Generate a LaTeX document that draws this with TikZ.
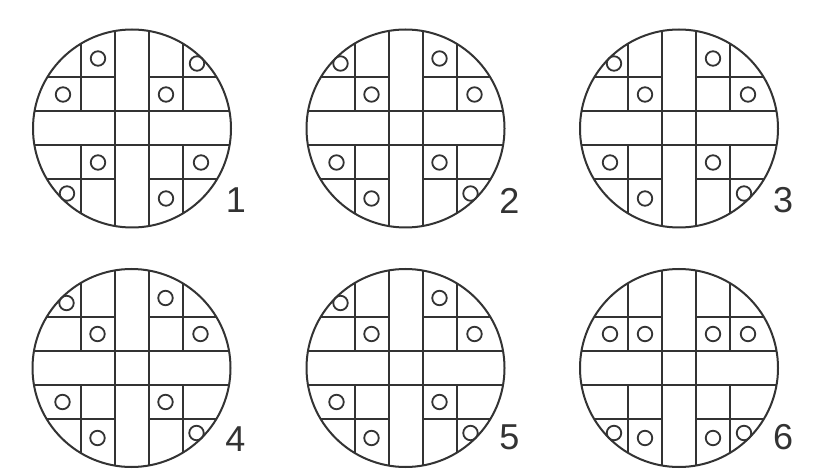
\documentclass[tikz,border=0pt]{standalone}
\usepackage{fontspec}
\setmainfont{Liberation Sans}
\newcommand\drawdisc[5]{%
  \begin{scope}[shift={(#2,#3)}]
    \begin{scope}
      \clip (0,0) circle[radius=99pt];
      \draw[gridline]
        (-17,-110) -- (-17,110) (17,-110) -- (17,110)
        (-110,-17) -- (110,-17) (-110,17) -- (110,17)
        (-51,-110) -- (-51,-17) (-51,17) -- (-51,110)
        (51,-110) -- (51,-17) (51,17) -- (51,110)
        (-110,-51) -- (-17,-51) (17,-51) -- (110,-51)
        (-110,51) -- (-17,51) (17,51) -- (110,51);
    \end{scope}
    \node[rim] (#1) at (0,0) {};
    \foreach \hx/\hy [count=\k] in {#4} \node[hole] (#1h\k) at (\hx,\hy) {};
    \node[numtext] (#1n) at (104,#5) {\ignorespaces#1};
  \end{scope}}
\begin{document}
\begin{tikzpicture}[x=1pt,y=-1pt,
  gridline/.style={line width=2pt, draw=black!80},
  rim/.style={circle, line width=2pt, draw=black!80, minimum size=198pt, inner sep=0pt},
  hole/.style={circle, line width=1.8pt, draw=black!80, minimum size=14.5pt, inner sep=0pt},
  numtext/.style={font=\fontsize{36}{36}\selectfont, text=black!80, inner sep=0pt}]
\useasboundingbox[fill=white] (0,0) rectangle (832,470);
\drawdisc{1}{132}{128.5}{-34/-70, -69/-34, 65/-65, 34/-34, -34/34, -65/65, 69/34, 34/70}{72}
\drawdisc{2}{405.5}{128.5}{-65/-65, -34/-34, 34/-70, 69/-34, -69/34, -34/70, 34/34, 65/65}{72}
\drawdisc{3}{679}{128.5}{-65/-65, -34/-34, 34/-70, 69/-34, -69/34, -34/70, 34/34, 65/65}{72}
\drawdisc{4}{131.5}{368}{-65/-65, -34/-34, 34/-70, 69/-34, -69/34, -34/70, 34/34, 65/65}{71}
\drawdisc{5}{405.5}{368}{-65/-65, -34/-34, 34/-70, 69/-34, -69/34, -34/70, 34/34, 65/65}{69}
\drawdisc{6}{679}{368}{-69/-34, -34/-34, 34/-34, 69/-34, -65/65, -34/70, 34/70, 65/65}{69}
\end{tikzpicture}
\end{document}
